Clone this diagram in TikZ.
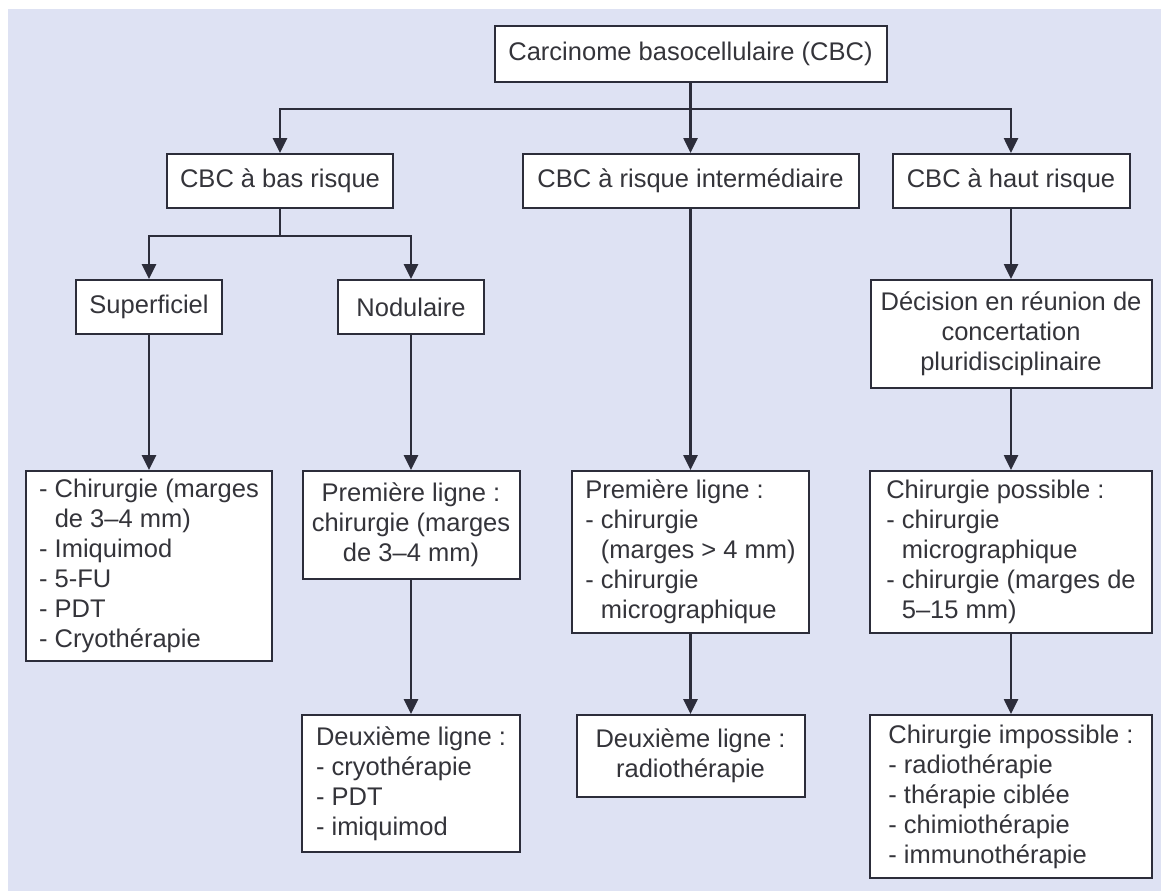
\documentclass[tikz,border=0pt]{standalone}
\usepackage{fontspec}
\setmainfont{Liberation Sans}
\usetikzlibrary{arrows.meta}
\definecolor{bgblue}{RGB}{222,226,243}
\definecolor{linegray}{RGB}{44,45,58}
\definecolor{textgray}{RGB}{52,52,58}
\newcommand{\hang}{\phantom{- }}

\begin{document}
\begin{tikzpicture}[x=0.5pt,y=-0.5pt,
	box/.style={draw=linegray,fill=white,line width=1pt,text=textgray,inner sep=0pt,
		font=\fontsize{12.75}{15}\selectfont},
	arr/.style={draw=linegray,line width=1.3pt,-{Triangle[length=7.5pt,width=7pt]}}]
	\useasboundingbox (0,0) rectangle (1161,891);
	\fill[bgblue] (8,9) rectangle (1161,891);

	% top and risk levels
	\node[box,minimum width=196pt,minimum height=28pt] (cbc) at (690.5,54) {Carcinome basocellulaire (CBC)};
	\node[box,minimum width=113pt,minimum height=27pt] (low) at (280,181) {CBC à bas risque};
	\node[box,minimum width=168pt,minimum height=27pt] (mid) at (690.5,181) {CBC à risque intermédiaire};
	\node[box,minimum width=118.5pt,minimum height=27pt] (high) at (1011,181) {CBC à haut risque};

	% second row
	\node[box,minimum width=73pt,minimum height=27pt] (sup) at (149,307) {Superficiel};
	\node[box,minimum width=73pt,minimum height=27pt] (nod) at (411,307) {Nodulaire};
	\node[box,minimum width=140.5pt,minimum height=54pt,align=center] (rcp) at (1011,334)
		{Décision en réunion de\\concertation\\pluridisciplinaire};

	% treatments
	\node[box,minimum width=123pt,minimum height=95pt,align=left] (supT) at (149,566)
		{- Chirurgie (marges\\\hang de 3–4 mm)\\- Imiquimod\\- 5-FU\\- PDT\\- Cryothérapie};
	\node[box,minimum width=108.5pt,minimum height=54pt,align=center] (nodA) at (411,525)
		{Première ligne :\\chirurgie (marges\\de 3–4 mm)};
	\node[box,minimum width=109pt,minimum height=68.5pt,align=left] (nodB) at (411,783.5)
		{Deuxième ligne :\\- cryothérapie\\- PDT\\- imiquimod};
	\node[box,minimum width=118.5pt,minimum height=81pt,align=left] (midA) at (690.5,552)
		{Première ligne :\\- chirurgie\\\hang(marges > 4 mm)\\- chirurgie\\\hang micrographique};
	\node[box,minimum width=114pt,minimum height=41pt,align=center] (midB) at (690.5,756)
		{Deuxième ligne :\\radiothérapie};
	\node[box,minimum width=141pt,minimum height=81pt,align=left] (highA) at (1011,552)
		{Chirurgie possible :\\- chirurgie\\\hang micrographique\\- chirurgie (marges de\\\hang 5–15 mm)};
	\node[box,minimum width=141pt,minimum height=81.5pt,align=left] (highB) at (1011,796.5)
		{Chirurgie impossible :\\- radiothérapie\\- thérapie ciblée\\- chimiothérapie\\- immunothérapie};

	% connectors
	\draw[arr] (cbc.south) -- ++(0,26) -| (low.north);
	\draw[arr] (cbc.south) -- ++(0,26) -| (high.north);
	\draw[arr] (cbc.south) -- (mid.north);
	\draw[arr] (low.south) -- ++(0,27) -| (sup.north);
	\draw[arr] (low.south) -- ++(0,27) -| (nod.north);
	\draw[arr] (high.south) -- (rcp.north);
	\draw[arr] (sup.south) -- (supT.north);
	\draw[arr] (nod.south) -- (nodA.north);
	\draw[arr] (nodA.south) -- (nodB.north);
	\draw[arr] (mid.south) -- (midA.north);
	\draw[arr] (midA.south) -- (midB.north);
	\draw[arr] (rcp.south) -- (highA.north);
	\draw[arr] (highA.south) -- (highB.north);
\end{tikzpicture}
\end{document}
